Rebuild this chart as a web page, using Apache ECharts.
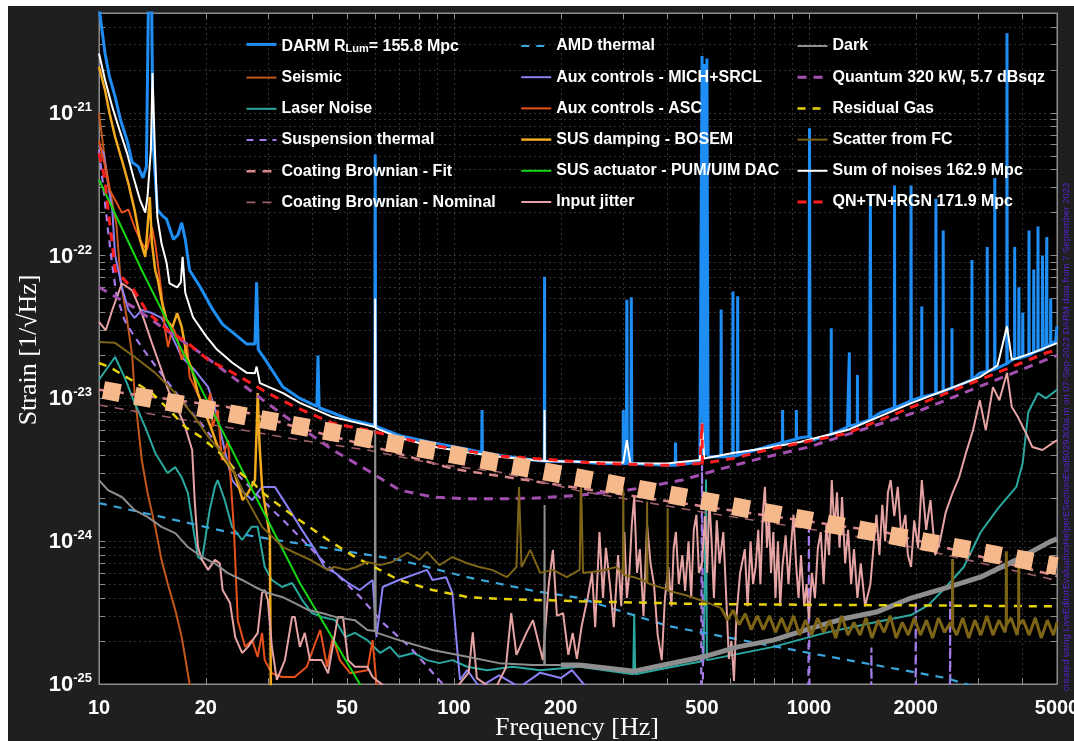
<!DOCTYPE html>
<html>
<head>
<meta charset="utf-8">
<script src="https://cdn.jsdelivr.net/npm/echarts@6/dist/echarts.min.js"></script>
<style>
  html, body { margin: 0; padding: 0; background: #ffffff; }
  #chart { width: 1074px; height: 741px; }
</style>
</head>
<body>
<div id="chart"></div>
<script>
// Axis ticks
const xTickLabels = [10, 20, 50, 100, 200, 500, 1000, 2000, 5000];
const yTickExponents = [-25, -24, -23, -22, -21];
const freqRange = [10, 5000];
const strainRange = [1e-25, 5e-21];

// Noise budget curves: [frequency Hz, strain 1/sqrt(Hz)]
const darm = [
  [10.0, 5.5e-21], [10.4, 2.6e-21], [10.7, 1.8e-21], [11.1, 1.3e-21], [11.5, 8.9e-22], [12.0, 6.4e-22],
  [12.4, 4.5e-22], [12.9, 4.2e-22], [13.3, 3.5e-22], [13.6, 4.2e-22], [13.8, 8e-21], [14.05, 8e-21],
  [14.2, 6.1e-22], [14.6, 2.1e-22], [15.1, 1.9e-22], [15.5, 1.8e-22], [16.2, 1.3e-22], [16.7, 1.4e-22],
  [17.1, 1.7e-22], [17.5, 1.3e-22], [18.0, 7.9e-23], [19.3, 6.0e-23], [20.9, 4.2e-23], [22.3, 3.3e-23],
  [23.8, 2.9e-23], [26.1, 2.4e-23], [27.5, 2.4e-23], [27.8, 6.5e-23], [28.1, 2.2e-23], [29.7, 1.8e-23],
  [33.0, 1.2e-23], [36.8, 1.0e-23], [41.1, 8.8e-24], [41.4, 2.0e-23], [41.7, 8.6e-24], [45.6, 7.9e-24],
  [51, 7.1e-24], [57.9, 6.6e-24], [59.8, 6.5e-24], [60.0, 5.1e-22], [60.2, 6.4e-24], [70, 5.5e-24],
  [87, 4.9e-24], [109, 4.4e-24], [119.7, 4.2e-24], [120, 8.3e-24], [120.3, 4.2e-24], [134, 4.0e-24],
  [167, 3.7e-24], [179.7, 3.65e-24], [180, 7.1e-23], [180.3, 3.65e-24], [226, 3.6e-24], [258, 3.5e-24],
  [299.5, 3.5e-24], [300, 8.3e-24], [301, 3.5e-24], [306, 3.5e-24], [307, 4.9e-23], [308, 3.5e-24],
  [315, 3.5e-24], [316, 5.1e-23], [317, 3.5e-24], [398, 3.4e-24], [420, 3.4e-24], [421, 4.9e-24],
  [422, 3.4e-24], [493, 3.6e-24], [500, 2.5e-21], [504, 4.0e-24], [508, 2.2e-21], [512, 4.0e-24],
  [516, 2.4e-21], [520, 3.9e-24], [565, 3.9e-24], [566, 4.2e-23], [567, 3.9e-24], [610, 3.9e-24],
  [611, 5.6e-23], [612, 3.9e-24], [629, 4.0e-24], [630, 5.2e-23], [631, 4.0e-24], [761, 4.6e-24],
  [842, 4.9e-24], [843, 8.3e-24], [844, 4.9e-24], [921, 5.2e-24], [922, 8.3e-24], [923, 5.2e-24],
  [944, 5.3e-24], [1000, 5.4e-24], [1004, 7.8e-22], [1008, 5.4e-24], [1025, 5.1e-24], [1155, 5.6e-24],
  [1156, 3.1e-23], [1157, 5.6e-24], [1284, 6.3e-24], [1299, 6.3e-24], [1300, 2.1e-23], [1301, 6.4e-24],
  [1369, 6.6e-24], [1370, 1.46e-23], [1371, 6.6e-24], [1484, 7.1e-24], [1490, 2.6e-22], [1496, 7.2e-24],
  [1585, 7.9e-24], [1740, 8.6e-24], [1743, 3.1e-22], [1746, 8.6e-24], [1936, 9.6e-24], [1940, 3.1e-22],
  [1944, 9.7e-24], [2078, 1.02e-23], [2080, 4.4e-23], [2082, 1.02e-23], [2275, 1.08e-23], [2280, 2.5e-22],
  [2285, 1.08e-23], [2388, 1.12e-23], [2390, 1.5e-22], [2392, 1.12e-23], [2450, 1.15e-23], [2529, 1.18e-23],
  [2530, 3.1e-23], [2531, 1.18e-23], [2877, 1.35e-23], [2880, 9.3e-23], [2883, 1.35e-23], [3030, 1.5e-23],
  [3177, 1.55e-23], [3180, 1.15e-22], [3183, 1.55e-23], [3336, 1.6e-23], [3340, 3.5e-22], [3344, 1.6e-23],
  [3610, 1.75e-23], [3615, 3.6e-21], [3620, 1.75e-23], [3730, 1.86e-23], [3797, 1.9e-23], [3800, 1.15e-22],
  [3803, 1.9e-23], [3900, 1.9e-23], [3905, 6e-23], [3910, 1.9e-23], [4000, 1.95e-23], [4005, 4e-23],
  [4010, 1.95e-23], [4165, 2.0e-23], [4170, 1.5e-22], [4175, 2.0e-23], [4295, 2.1e-23], [4300, 8e-23],
  [4305, 2.1e-23], [4415, 2.15e-23], [4420, 1.6e-22], [4425, 2.15e-23], [4545, 2.2e-23], [4550, 1.0e-22],
  [4555, 2.2e-23], [4650, 2.3e-23], [4677, 2.3e-23], [4680, 1.35e-22], [4683, 2.3e-23], [4795, 2.4e-23],
  [4800, 5e-23], [4805, 2.4e-23], [4950, 2.5e-23], [5000, 3.2e-23]
];

const seismic = [
  [10, 1.0e-21], [10.4, 4.6e-22], [10.7, 3.0e-22], [11.2, 1.64e-22], [11.5, 6.75e-23], [12, 3.54e-23],
  [12.4, 2.0e-23], [12.6, 1.09e-23], [12.9, 6.3e-24], [13.2, 3.7e-24], [13.7, 2.18e-24], [14.4, 1.26e-24],
  [15, 7.4e-25], [15.6, 5.1e-25], [16.4, 3.3e-25], [17.1, 2.13e-25], [18, 1.0e-25], [19, 6e-26]
];

const laserNoise = [
  [10, 1.35e-23], [10.6, 1.66e-23], [11.1, 1.95e-23], [11.8, 1.41e-23], [12.6, 9.3e-24], [13.5, 6.3e-24],
  [14.4, 4.15e-24], [15.6, 3.0e-24], [16.4, 3.3e-24], [17.1, 2.8e-24], [17.8, 2.18e-24], [18.4, 1.26e-24],
  [19.0, 7.75e-25], [19.5, 7.4e-25], [19.9, 1.02e-24], [20.5, 1.65e-24], [21.2, 2.4e-24], [21.6, 2.68e-24],
  [22.6, 1.94e-24], [23.7, 1.26e-24], [25.3, 1.02e-24], [26.9, 1.26e-24], [28, 1.26e-24], [29.3, 6.6e-25],
  [30.7, 5.35e-25], [32.8, 4.78e-25], [35, 5.1e-25], [37.3, 3.9e-25], [39.8, 3.14e-25], [42.4, 2.95e-25],
  [46.3, 2.8e-25], [49.4, 2.13e-25], [52.6, 2.28e-25], [57, 2.03e-25], [62, 1.65e-25], [66, 1.82e-25],
  [70, 1.55e-25], [77, 1.65e-25], [84, 1.47e-25], [91, 1.4e-25], [99, 1.47e-25], [109, 1.32e-25],
  [124, 1.25e-25], [146, 1.32e-25], [175, 1.25e-25], [226, 1.32e-25], [320, 1.17e-25], [322, 3.1e-25],
  [324, 1.17e-25], [400, 1.3e-25], [505, 1.45e-25], [510, 1.45e-25], [513, 2.7e-24], [516, 1.47e-25],
  [794, 1.82e-25], [1110, 2.28e-25], [1550, 2.72e-25], [1940, 3.04e-25], [2170, 3.57e-25], [2420, 4.7e-25],
  [2730, 6.6e-25], [3050, 1.16e-24], [3420, 1.71e-24], [3840, 2.4e-24], [4000, 3.5e-24], [4150, 8e-24],
  [4420, 1.09e-23], [4650, 1.0e-23], [5000, 1.15e-23]
];

const suspThermal = [
  [10, 5.5e-22], [10.3, 2.9e-22], [10.6, 1.51e-22], [10.9, 8.6e-23], [11.2, 5.3e-23], [11.8, 3.54e-23],
  [12.5, 2.78e-23], [13.5, 2.11e-23], [15.3, 1.39e-23], [17.7, 8.7e-24], [20.1, 6.0e-24], [22.3, 4.15e-24],
  [25, 2.8e-24], [29.4, 1.85e-24], [33, 1.41e-24], [43.9, 6.8e-25], [54.3, 4.1e-25], [63.2, 2.67e-25],
  [75, 1.82e-25], [93, 1.0e-25], [200, 4e-26], [496, 3e-26], [500, 3.4e-24], [504, 3e-26],
  [995, 2.5e-26], [1000, 1.24e-24], [1005, 2.5e-26], [1495, 2.5e-26], [1500, 1.8e-25], [1505, 2.5e-26],
  [1995, 2.5e-26], [2000, 3.8e-25], [2005, 2.5e-26], [2495, 2.5e-26], [2500, 3.8e-25], [2505, 2.5e-26],
  [5000, 2e-26]
];

const coatingFit = [
  [10, 1.15e-23], [23, 8.7e-24], [36, 6.3e-24], [63, 4.4e-24], [100, 3.2e-24], [226, 2.35e-24],
  [500, 1.76e-24], [1650, 1.15e-24], [5000, 5.7e-25]
];

const coatingNominal = [
  [10, 9.0e-24], [37, 5.1e-24], [57, 4.35e-24], [87, 3.5e-24], [134, 3.05e-24], [226, 2.25e-24],
  [500, 1.6e-24], [1650, 1.0e-24], [5000, 5.3e-25]
];

const amdThermal = [
  [10, 1.85e-24], [15, 1.48e-24], [23, 1.16e-24], [42, 9.1e-25], [70, 7.4e-25], [109, 5.6e-25],
  [167, 4.5e-25], [226, 4.0e-25], [400, 2.55e-25], [1000, 1.65e-25], [2440, 1.1e-25], [3260, 8.8e-26],
  [5000, 6.5e-26]
];

const auxMichSrcl = [
  [10, 5.95e-22], [10.3, 5.2e-22], [10.6, 3.2e-22], [10.9, 2.08e-22], [11.1, 1.01e-22], [11.6, 6.0e-23],
  [12.1, 4.16e-23], [12.6, 3.66e-23], [13.2, 4.16e-23], [14.1, 3.96e-23], [15, 3.66e-23], [16.1, 2.69e-23],
  [17.1, 1.95e-23], [18.6, 1.58e-23], [20.3, 1.2e-23], [21.3, 8.3e-24], [22.6, 4.35e-24], [23.7, 2.68e-24],
  [24.6, 2.4e-24], [27, 1.94e-24], [28.8, 2.4e-24], [31.3, 2.4e-24], [34, 1.74e-24], [37.3, 1.2e-24],
  [40.6, 8.7e-25], [43.3, 6.5e-25], [46.3, 6.0e-25], [50.3, 5.1e-25], [54.3, 4.55e-25], [59, 5.35e-25],
  [60.5, 2.13e-25], [63, 4.78e-25], [70, 5.35e-25], [84, 6.3e-25], [87, 5.35e-25], [95, 5.6e-25],
  [99, 4.34e-25], [102, 1.82e-25], [104, 1.07e-25], [109, 1.25e-25], [118, 9.5e-26], [134, 1.15e-25],
  [153, 9.5e-26], [175, 1.2e-25], [200, 1.1e-25], [215, 1.25e-25], [250, 8e-26], [5000, 5e-26]
];

const auxAsc = [
  [10, 6.4e-22], [10.4, 4.2e-22], [10.7, 2.9e-22], [11.1, 2.45e-22], [11.6, 2.0e-22], [12.1, 2.1e-22],
  [12.6, 1.58e-22], [13.2, 1.22e-22], [13.65, 1.1e-22], [14.1, 1.58e-22], [14.4, 1.22e-22], [15, 5.5e-23],
  [15.3, 3.16e-23], [15.65, 2.29e-23], [16.1, 3.16e-23], [16.6, 2.69e-23], [17.1, 1.86e-23], [17.7, 2.44e-23],
  [18, 1.41e-23], [18.6, 1.2e-23], [19.3, 9.7e-24], [19.9, 7.9e-24], [20.6, 1.09e-23], [20.9, 6.3e-24],
  [21.6, 8.3e-24], [22.2, 3.7e-24], [23.1, 5.1e-24], [23.7, 1.94e-24], [24, 1.2e-24], [24.6, 2.8e-25],
  [25.8, 1.82e-25], [27, 2.03e-25], [28, 1.55e-25], [28.8, 2.28e-25], [29.3, 1.47e-25], [30.7, 1.19e-25],
  [32.8, 1.12e-25], [35.6, 1.12e-25], [38.5, 1.32e-25], [40, 1.73e-25], [42, 2.39e-25], [43.9, 1.32e-25],
  [45.6, 2.13e-25], [47.7, 1.47e-25], [51, 1.19e-25], [57, 1.25e-25], [59, 2.03e-25], [60.7, 9e-26],
  [80, 5e-26]
];

const susDamping = [
  [10, 2.1e-21], [10.4, 1.44e-21], [10.7, 1.0e-21], [11.1, 6.8e-22], [11.6, 4.67e-22], [12.1, 3.2e-22],
  [12.6, 2.08e-22], [13.05, 1.29e-22], [13.5, 9.8e-23], [13.7, 1.58e-22], [13.9, 2.57e-22], [14.1, 1.22e-22],
  [14.4, 7.9e-23], [14.65, 6.75e-23], [15, 4.9e-23], [15.5, 3.54e-23], [16.1, 3.16e-23], [16.6, 3.96e-23],
  [17.1, 3.16e-23], [17.7, 1.95e-23], [18.3, 1.58e-23], [19.0, 1.09e-23], [19.9, 7.9e-24], [20.8, 6.0e-24],
  [21.6, 4.57e-24], [22.6, 3.7e-24], [24.1, 3.0e-24], [25.4, 1.94e-24], [26.3, 2.18e-24], [27.5, 2.68e-24],
  [27.8, 6e-24], [28.0, 1.09e-23], [28.3, 5e-24], [28.8, 2.4e-24], [29.7, 1.48e-24], [30.3, 1.07e-24],
  [30.5, 7e-26]
];

const susActuator = [
  [10, 3.4e-22], [13.2, 7.9e-23], [19.3, 1.2e-23], [25.3, 3.15e-24], [36.8, 5.1e-25], [54.3, 1.0e-25],
  [60, 6e-26]
];

const inputJitter = [
  [10, 3.43e-23], [10.45, 3.0e-23], [10.9, 4.16e-23], [11.6, 6.4e-23], [12.4, 5.7e-23], [13.2, 3.96e-23],
  [14.1, 2.44e-23], [15, 1.58e-23], [15.65, 1.15e-23], [16.7, 8.3e-24], [17.5, 6.3e-24], [18.3, 4.35e-24],
  [18.6, 1.94e-24], [19.0, 9.1e-25], [19.5, 7.4e-25], [20.3, 6.3e-25], [21.2, 7.4e-25], [21.9, 7.0e-25],
  [22.3, 4.55e-25], [23.4, 3.69e-25], [24.2, 2.13e-25], [25.3, 1.65e-25], [26.3, 1.82e-25], [28, 2.28e-25],
  [28.8, 4.34e-25], [29.3, 4.55e-25], [29.9, 3.87e-25], [30.7, 1.82e-25], [31.7, 1.07e-25], [33.4, 1.47e-25],
  [35, 2.95e-25], [35.6, 2.95e-25], [36.8, 1.82e-25], [38, 2.28e-25], [39.3, 1.47e-25], [42.4, 1.47e-25],
  [44.2, 1.19e-25], [47.1, 2.95e-25], [48.7, 2.95e-25], [50.3, 1.47e-25], [52.6, 1.32e-25], [57, 1.32e-25],
  [59, 1.12e-25], [70, 8e-26], [100, 9e-26], [110, 1.2e-25], [113, 2.3e-25], [116, 1.1e-25], [130, 9e-26],
  [140, 1.3e-25], [145, 3.14e-25], [150, 1.6e-25], [160, 2.28e-25], [167, 2.8e-25], [178, 1.47e-25],
  [185, 5e-25], [190, 8.7e-25], [195, 3e-25], [203, 3.14e-25], [210, 1.6e-25], [216, 2.28e-25],
  [222, 1.5e-25], [229, 2.55e-25], [238, 4e-25], [245, 6e-25], [250, 2.5e-25], [257, 1.16e-24],
  [263, 4e-25], [268, 9e-25], [275, 5.0e-25], [282, 2.5e-25], [290, 8e-25], [296, 3.5e-25],
  [302, 1.16e-24], [307, 4e-25], [312, 6e-25], [317, 1.3e-24], [322, 2.04e-24], [328, 6e-25],
  [334, 8.8e-25], [342, 3e-25], [350, 1.3e-24], [358, 7e-25], [366, 5.0e-25], [375, 2.2e-25],
  [385, 1.47e-25], [393, 4e-25], [402, 6.6e-25], [410, 3.5e-25], [416, 9e-25], [422, 1.16e-24],
  [430, 5e-25], [440, 8e-25], [448, 4.48e-25], [458, 1.0e-24], [466, 4e-25], [474, 1.2e-24],
  [482, 1.53e-24], [490, 6e-25], [500, 7e-25], [510, 1.5e-24], [517, 6e-25], [524, 2.04e-24],
  [532, 1.0e-24], [540, 4e-25], [550, 1.4e-24], [560, 7e-25], [574, 1.16e-24], [585, 4e-25],
  [595, 1.5e-25], [605, 2e-25], [615, 1.05e-25], [625, 3e-25], [640, 6e-25], [660, 8.8e-25],
  [672, 3.5e-25], [685, 1.0e-24], [696, 5e-25], [708, 6.6e-25], [720, 1.2e-24], [730, 5e-25],
  [742, 1.6e-24], [752, 2.4e-24], [762, 9e-25], [772, 1.5e-24], [782, 6e-25], [794, 1.16e-24],
  [805, 4e-25], [818, 1.0e-24], [830, 3.5e-25], [842, 6.6e-25], [860, 1.1e-24], [876, 5e-25],
  [890, 9e-25], [905, 1.53e-24], [920, 7e-25], [935, 4e-25], [950, 8e-25], [970, 3.5e-25],
  [985, 5e-25], [1000, 2.85e-25], [1020, 6e-25], [1040, 4e-25], [1060, 9e-25], [1080, 1.16e-24],
  [1100, 5e-25], [1120, 1.3e-24], [1140, 8e-25], [1160, 2.68e-24], [1180, 1.2e-24], [1200, 2.2e-24],
  [1220, 9e-25], [1240, 2.04e-24], [1265, 7e-25], [1290, 1.2e-24], [1315, 5e-25], [1340, 8.8e-25],
  [1370, 4e-25], [1400, 7e-25], [1440, 3.5e-25], [1490, 5.0e-25], [1520, 9e-25], [1550, 1.53e-24],
  [1580, 8e-25], [1610, 1.8e-24], [1640, 1.0e-24], [1670, 2.2e-24], [1700, 2.68e-24], [1740, 1.5e-24],
  [1780, 2.4e-24], [1820, 1.1e-24], [1870, 1.53e-24], [1900, 8e-25], [1940, 6.6e-25], [1980, 1.4e-24],
  [2030, 9e-25], [2080, 2.68e-24], [2140, 1.2e-24], [2200, 1.94e-24], [2270, 8e-25], [2340, 1.0e-24],
  [2430, 1.6e-24], [2540, 2.18e-24], [2650, 2.8e-24], [2770, 4.15e-24], [2900, 6e-24], [3030, 9.7e-24],
  [3150, 6e-24], [3300, 1.2e-23], [3440, 9.7e-24], [3615, 1.51e-23], [3730, 8.7e-24], [3880, 7.4e-24],
  [4090, 5.7e-24], [4260, 4.57e-24], [4550, 4.35e-24], [5000, 5.1e-24]
];

// Dark noise: low-frequency trace and the broader high-frequency band
const darkLow = [
  [10, 2.68e-24], [10.6, 2.28e-24], [11.6, 2.04e-24], [12.6, 1.65e-24], [13.7, 1.48e-24], [15, 1.26e-24],
  [16.4, 1.14e-24], [17.8, 9.1e-25], [19.5, 7.75e-25], [21.2, 7.0e-25], [23, 6.0e-25], [25.3, 5.35e-25],
  [27.5, 4.78e-25], [29.9, 4.34e-25], [32.8, 4.07e-25], [35.6, 3.69e-25], [38.8, 3.3e-25], [42.4, 3.14e-25],
  [46.3, 2.95e-25], [52.6, 2.8e-25], [57, 2.39e-25], [59.8, 2.35e-25], [60, 6.0e-24], [60.2, 2.3e-25],
  [70, 2.03e-25], [87, 1.73e-25], [109, 1.55e-25], [134, 1.4e-25], [167, 1.36e-25], [179.7, 1.36e-25],
  [180, 1.79e-24], [180.3, 1.36e-25], [200, 1.36e-25]
];
const darkHigh = [
  [200, 1.36e-25], [226, 1.36e-25], [322, 1.23e-25], [402, 1.38e-25], [505, 1.55e-25], [630, 1.82e-25],
  [794, 2.03e-25], [1000, 2.43e-25], [1240, 2.85e-25], [1550, 3.19e-25], [1940, 4.0e-25], [2420, 4.7e-25],
  [3040, 5.6e-25], [3840, 7.4e-25], [4770, 9.9e-25], [5000, 1.04e-24]
];

const quantum = [
  [10, 6.0e-23], [12.5, 4.36e-23], [15.5, 3.0e-23], [19.3, 2.08e-23], [23.8, 1.41e-23], [29.7, 9.3e-24],
  [36.8, 6.3e-24], [45.6, 4.35e-24], [56.9, 3.15e-24], [70.3, 2.28e-24], [87, 2.04e-24], [109, 1.98e-24],
  [134, 1.98e-24], [167, 2.0e-24], [226, 2.1e-24], [310, 2.28e-24], [440, 2.68e-24], [550, 3.15e-24],
  [730, 3.8e-24], [1000, 4.57e-24], [2000, 8.0e-24], [5000, 2.0e-23]
];

const residualGas = [
  [10, 1.77e-23], [10.7, 1.66e-23], [12.3, 1.35e-23], [14.1, 1.09e-23], [16, 8.0e-24], [17.5, 6.3e-24],
  [19.3, 5.4e-24], [21.9, 4.15e-24], [23.8, 3.3e-24], [27.2, 2.56e-24], [28.8, 2.2e-24], [35.6, 1.48e-24],
  [44.2, 1.02e-24], [52.6, 7.75e-25], [57, 7.0e-25], [70, 5.35e-25], [87, 4.55e-25], [109, 4.07e-25],
  [134, 3.94e-25], [226, 3.8e-25], [500, 3.63e-25], [5000, 3.5e-25]
];

// Scatter from the filter cavity: low-frequency trace and the broader high-frequency band
const scatterLow = [
  [10, 2.48e-23], [11.1, 2.45e-23], [12.6, 1.95e-23], [14.4, 1.51e-23], [16.4, 1.09e-23], [18.6, 7.4e-24],
  [20.3, 5.4e-24], [22.2, 4.15e-24], [24.1, 3.0e-24], [26, 2.0e-24], [28.8, 1.26e-24], [33, 9.1e-25],
  [35.6, 8.3e-25], [39.4, 7.4e-25], [44, 6.3e-25], [46, 6.6e-25], [50, 6.3e-25], [53, 6.6e-25],
  [57, 7.15e-25], [62, 6.8e-25], [67, 7.15e-25], [74, 8.3e-25], [80, 7.4e-25], [84, 8.4e-25],
  [91, 6.8e-25], [99, 7.75e-25], [109, 7.0e-25], [118, 6.6e-25], [128, 6.3e-25], [141, 5.6e-25],
  [150, 6.6e-25], [152.5, 2.4e-24], [155, 6.6e-25], [164, 8.7e-25], [175, 6.0e-25], [190, 6.3e-25],
  [208, 5.6e-25], [226, 6.3e-25], [228, 2.7e-24], [231, 6.0e-25], [260, 6.2e-25], [287, 6.6e-25],
  [299, 6.0e-25], [300, 2.3e-24], [301, 5.8e-25], [322, 5.6e-25], [349, 5.2e-25], [350, 1.9e-24],
  [351, 5.1e-25], [358, 5.0e-25], [399, 4.6e-25], [400, 1.7e-24], [401, 4.5e-25], [448, 4.2e-25],
  [505, 3.8e-25], [566, 3.4e-25]
];
const scatterHigh = [
  [566, 3.4e-25], [590, 2.8e-25], [612, 3.3e-25], [636, 2.6e-25], [662, 3.1e-25], [688, 2.4e-25],
  [716, 3.0e-25], [744, 2.4e-25], [774, 3.0e-25], [805, 2.3e-25], [837, 2.9e-25], [870, 2.3e-25],
  [905, 3.0e-25], [941, 2.2e-25], [979, 2.8e-25], [1018, 2.2e-25], [1058, 2.9e-25], [1101, 2.3e-25],
  [1145, 2.8e-25], [1190, 2.1e-25], [1238, 3.0e-25], [1288, 2.2e-25], [1339, 2.7e-25], [1393, 2.2e-25],
  [1448, 2.9e-25], [1506, 2.1e-25], [1567, 2.8e-25], [1629, 2.3e-25], [1695, 3.0e-25], [1762, 2.1e-25],
  [1833, 2.7e-25], [1906, 2.2e-25], [1982, 2.9e-25], [2062, 2.2e-25], [2144, 2.8e-25], [2230, 2.1e-25],
  [2319, 2.9e-25], [2412, 2.3e-25], [2508, 2.7e-25], [2538, 2.5e-25], [2540, 7.5e-25], [2542, 2.5e-25],
  [2608, 2.2e-25], [2713, 2.9e-25], [2821, 2.1e-25], [2934, 2.8e-25], [3051, 2.2e-25], [3173, 3.0e-25],
  [3300, 2.2e-25], [3432, 2.8e-25], [3569, 2.3e-25], [3598, 2.6e-25], [3600, 8.5e-25], [3602, 2.6e-25],
  [3712, 2.9e-25], [3860, 2.2e-25], [3898, 2.6e-25], [3900, 8e-25], [3902, 2.6e-25], [4015, 2.8e-25],
  [4175, 2.2e-25], [4342, 2.9e-25], [4516, 2.1e-25], [4697, 2.8e-25], [4885, 2.2e-25], [5000, 2.7e-25]
];

const sumNoises = [
  [10, 2.6e-21], [10.4, 1.7e-21], [10.9, 1.1e-21], [11.5, 7.2e-22], [12.0, 5.2e-22], [12.5, 3.55e-22],
  [13.05, 2.45e-22], [13.5, 2.0e-22], [13.7, 2.6e-22], [14.0, 5.5e-22], [14.15, 1.9e-21], [14.35, 6.1e-22],
  [14.6, 1.86e-22], [15.0, 1.22e-22], [15.5, 8.9e-23], [15.8, 6.4e-23], [16.6, 6.0e-23], [17.0, 6.5e-23],
  [17.2, 9.8e-23], [17.5, 5.5e-23], [18.4, 3.7e-23], [20.1, 2.7e-23], [21.5, 2.2e-23], [23.8, 1.77e-23],
  [26.1, 1.51e-23], [27.5, 1.5e-23], [27.8, 1.67e-23], [28.4, 1.28e-23], [33, 1.09e-23], [36.8, 9.3e-24],
  [45.6, 7.4e-24], [56.9, 6.5e-24], [59.8, 6.3e-24], [60, 5.0e-23], [60.2, 6.2e-24], [70.3, 5.3e-24],
  [87, 4.6e-24], [109, 4.2e-24], [134, 3.9e-24], [167, 3.7e-24], [179.7, 3.65e-24], [180, 8.3e-24],
  [180.3, 3.65e-24], [226, 3.6e-24], [300, 3.55e-24], [307, 5.1e-24], [314, 3.5e-24], [398, 3.5e-24],
  [493, 3.7e-24], [500, 6.7e-24], [507, 3.8e-24], [611, 4.15e-24], [761, 4.5e-24], [944, 4.95e-24],
  [1284, 6.0e-24], [1950, 9.3e-24], [3030, 1.41e-23], [3400, 1.7e-23], [3615, 3.2e-23], [3730, 1.86e-23],
  [4300, 2.1e-23], [5000, 2.44e-23]
];

const qnTnRgn = [
  [10, 5.2e-22], [10.4, 3.4e-22], [10.6, 2.1e-22], [10.9, 1.22e-22], [11.1, 7.9e-23], [12.5, 5.8e-23],
  [13.7, 4.0e-23], [15.65, 3.0e-23], [17.8, 2.44e-23], [20.3, 1.86e-23], [23.1, 1.58e-23], [25.8, 1.35e-23],
  [29.9, 1.09e-23], [35.7, 8.7e-24], [45.6, 6.7e-24], [56.9, 6.0e-24], [87, 4.7e-24], [134, 3.95e-24],
  [167, 3.8e-24], [208, 3.65e-24], [258, 3.5e-24], [398, 3.4e-24], [493, 3.5e-24], [499, 3.5e-24],
  [500, 6.7e-24], [501, 3.5e-24], [611, 3.8e-24], [761, 4.35e-24], [944, 4.87e-24], [1284, 5.7e-24],
  [1950, 8.7e-24], [3030, 1.35e-23], [4650, 2.08e-23], [5000, 2.18e-23]
];

// Broad reference trace drawn with square dashes
const referenceTrace = [[10, 1.16e-23], [5000, 6.7e-25]];

const seriesNames = [
  'DARM R_Lum = 155.8 Mpc', 'Seismic', 'Laser Noise', 'Suspension thermal', 'Coating Brownian - Fit',
  'Coating Brownian - Nominal', 'AMD thermal', 'Aux controls - MICH+SRCL', 'Aux controls - ASC',
  'SUS damping - BOSEM', 'SUS actuator - PUM/UIM DAC', 'Input jitter', 'Dark', 'Quantum 320 kW, 5.7 dBsqz',
  'Residual Gas', 'Scatter from FC', 'Sum of noises 162.9 Mpc', 'QN+TN+RGN 171.9 Mpc'
];
const curves = [
  darm, seismic, laserNoise, suspThermal, coatingFit, coatingNominal, amdThermal, auxMichSrcl, auxAsc,
  susDamping, susActuator, inputJitter, darkLow, quantum, residualGas, scatterLow, sumNoises, qnTnRgn
];
const lineStyles = [
  { color: '#1e8ef5', width: 3 },
  { color: '#c4571e', width: 2 },
  { color: '#2aa8a0', width: 2 },
  { color: '#a47be8', width: 2.2, type: [7, 6] },
  { color: '#d8868a', width: 2.5, type: [9, 7] },
  { color: '#9e5f68', width: 1.6, type: [9, 7] },
  { color: '#3aa6dc', width: 2.2, type: [8, 7] },
  { color: '#8a82f4', width: 2 },
  { color: '#e8501a', width: 2 },
  { color: '#f2aa1e', width: 2.5 },
  { color: '#16d616', width: 2 },
  { color: '#e6a3a3', width: 2 },
  { color: '#8e8e8e', width: 2 },
  { color: '#a24fb0', width: 3, type: [9, 7] },
  { color: '#e6d20c', width: 2.5, type: [8, 7] },
  { color: '#7e6416', width: 2 },
  { color: '#ffffff', width: 2 },
  { color: '#ff1c1c', width: 3, type: [9, 7] }
];
// wider bands drawn under the same legend entries
const bandCurves = [
  { name: 'Dark', data: darkHigh, after: 'Dark', style: { color: '#8e8e8e', width: 5 } },
  { name: 'Scatter from FC', data: scatterHigh, after: 'Scatter from FC', style: { color: '#7e6416', width: 3 } }
];

const lg = v => Math.log10(v);
const toLog = arr => arr.map(p => [lg(p[0]), lg(p[1])]);

// minor tick positions (1..9 per decade)
const xTicksAll = [];
for (let d = 1; d <= 3; d++) for (let m = 1; m <= 9; m++) { const v = m * Math.pow(10, d); if (v <= freqRange[1]) xTicksAll.push(lg(v)); }
const yTicksAll = [];
for (let e = -25; e <= -21; e++) for (let m = 1; m <= 9; m++) { const v = m * Math.pow(10, e); if (v <= strainRange[1] * 1.0001) yTicksAll.push(lg(v)); }

const FONT = 'Liberation Sans, Arial, sans-serif';
const axisGray = '#8c8c8c';
const gridLine = { show: true, lineStyle: { color: '#333333', width: 1, type: [2, 3] } };

const xMin = lg(freqRange[0]), xMax = lg(freqRange[1]);
const yMin = lg(strainRange[0]), yMax = lg(strainRange[1]);

const makeLine = (name, data, style) => ({
  name: name,
  type: 'line',
  data: toLog(data),
  showSymbol: false,
  symbol: 'none',
  silent: true,
  lineStyle: style,
  itemStyle: { color: style.color },
  clip: true
});

const series = [];
curves.forEach((c, i) => {
  series.push(makeLine(seriesNames[i], c, lineStyles[i]));
  bandCurves.filter(b => b.after === seriesNames[i]).forEach(b => series.push(makeLine(b.name, b.data, b.style)));
});
series.push(makeLine('reference', referenceTrace,
  { color: '#f6b98b', width: 18, type: [17, 15], dashOffset: 27.5, cap: 'butt' }));

const legendBase = {
  orient: 'vertical',
  top: 33,
  itemWidth: 30,
  itemHeight: 16,
  itemGap: 15.2,
  selectedMode: false,
  lineStyle: { width: 'inherit' },
  itemStyle: { color: 'rgba(0,0,0,0)', borderWidth: 0, opacity: 0 },
  textStyle: { color: '#ffffff', fontSize: 16, fontWeight: 'bold', fontFamily: FONT,
    rich: { sub: { color: '#ffffff', fontSize: 11, fontWeight: 'bold', fontFamily: FONT, verticalAlign: 'bottom', padding: [9, 0, 0, 0] },
            n: { color: '#ffffff', fontSize: 16, fontWeight: 'bold', fontFamily: FONT, verticalAlign: 'bottom' } } }
};

const option = {
  animation: false,
  backgroundColor: '#1f1f1f',
  textStyle: { fontFamily: FONT },
  grid: { left: 99, right: 17, top: 13, bottom: 57, show: true, backgroundColor: '#000000', borderColor: axisGray, borderWidth: 1, containLabel: false, outerBoundsMode: 'none' },
  legend: [
    Object.assign({}, legendBase, { left: 240, data: seriesNames.slice(0, 6),
      formatter: name => name.indexOf('_Lum') >= 0 ? '{n|DARM R}{sub|Lum}{n|= 155.8 Mpc}' : name }),
    Object.assign({}, legendBase, { left: 515, data: seriesNames.slice(6, 12) }),
    Object.assign({}, legendBase, { left: 791, data: seriesNames.slice(12, 18) })
  ],
  xAxis: [
    {
      type: 'value', min: xMin, max: xMax, position: 'bottom',
      axisLine: { show: true, lineStyle: { color: axisGray } },
      axisTick: { show: true, inside: true, length: 6, customValues: xTicksAll, lineStyle: { color: axisGray } },
      axisLabel: { customValues: xTickLabels.map(lg), formatter: v => String(Math.round(Math.pow(10, v))),
        color: '#ffffff', fontSize: 20, fontWeight: 'bold', margin: 14, fontFamily: FONT },
      splitLine: gridLine
    },
    {
      type: 'value', min: xMin, max: xMax, position: 'top',
      axisLine: { show: true, lineStyle: { color: axisGray } },
      axisTick: { show: true, inside: true, length: 6, customValues: xTicksAll, lineStyle: { color: axisGray } },
      axisLabel: { show: false }, splitLine: { show: false }
    }
  ],
  yAxis: [
    {
      type: 'value', min: yMin, max: yMax, position: 'left',
      axisLine: { show: true, lineStyle: { color: axisGray } },
      axisTick: { show: true, inside: true, length: 6, customValues: yTicksAll, lineStyle: { color: axisGray } },
      axisLabel: { customValues: yTickExponents, formatter: v => '{b|10}{s|' + Math.round(v) + '}',
        margin: 7,
        rich: {
          b: { color: '#ffffff', fontSize: 22, fontWeight: 'bold', fontFamily: FONT, verticalAlign: 'bottom' },
          s: { color: '#ffffff', fontSize: 13, fontWeight: 'bold', fontFamily: FONT, verticalAlign: 'bottom', padding: [0, 0, 11, 0] }
        } },
      splitLine: gridLine
    },
    {
      type: 'value', min: yMin, max: yMax, position: 'right',
      axisLine: { show: true, lineStyle: { color: axisGray } },
      axisTick: { show: true, inside: true, length: 6, customValues: yTicksAll, lineStyle: { color: axisGray } },
      axisLabel: { show: false }, splitLine: { show: false }
    }
  ],
  graphic: [
    { type: 'rect', left: 0, top: 0, shape: { width: 1074, height: 6 }, style: { fill: '#ffffff' }, silent: true },
    { type: 'rect', left: 0, top: 0, shape: { width: 8, height: 741 }, style: { fill: '#ffffff' }, silent: true },
    { type: 'text', x: 577, y: 728, silent: true,
      style: { text: 'Frequency [Hz]', fill: '#ffffff', font: '26px "Liberation Serif", serif', align: 'center', verticalAlign: 'middle' } },
    { type: 'text', x: 29, y: 350, rotation: Math.PI / 2, silent: true,
      style: { text: 'Strain [1/√Hz]', fill: '#ffffff', font: '26px "Liberation Serif", serif', align: 'center', verticalAlign: 'middle' } },
    { type: 'text', x: 1066, y: 437, rotation: Math.PI / 2, silent: true,
      style: { text: 'created using LiveEditorEvaluationHelperESectionEval5029300a.m on 07-Sep-2023 DARM data from 7 September 2023',
        fill: '#5522cc', font: '9.5px "Liberation Sans", sans-serif', align: 'center', verticalAlign: 'middle' } }
  ],
  series: series
};

const chart = echarts.init(document.getElementById('chart'), null, { renderer: 'canvas' });
chart.setOption(option);
</script>
</body>
</html>
